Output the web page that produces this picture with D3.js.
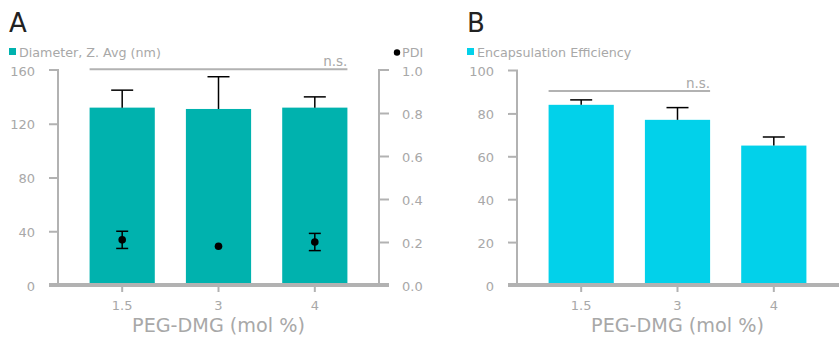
<!DOCTYPE html>
<html>
<head>
<meta charset="utf-8">
<script src="https://cdn.jsdelivr.net/npm/d3@7"></script>
<style>
  html, body { margin: 0; padding: 0; background: #fff; }
  svg { display: block; }
  text { font-family: "DejaVu Sans", sans-serif; }
</style>
</head>
<body>
<svg id="chart" width="839" height="337"></svg>
<script>
// ---- data ----
const categories = ["1.5", "3", "4"];
const diameter = [132, 131, 132];
const diameterErr = [13, 24, 8];
const pdi = [0.21, 0.18, 0.20];
const pdiErr = [0.04, 0, 0.04];
const encapsulation = [84, 77, 65];
const encapsulationErr = [2.3, 5.7, 4];
const diameterTicks = [0, 40, 80, 120, 160];
const pdiTicks = [0, 0.2, 0.4, 0.6, 0.8, 1.0];
const eeTicks = [0, 20, 40, 60, 80, 100];
const xTitle = "PEG-DMG (mol %)";

// ---- style ----
const GREY_TEXT = "#a8a8a8";
const GREY_LINE = "#b2b2b2";
const TEAL = "#00b2ae";
const CYAN = "#02d1ea";

const svg = d3.select("#chart");
const y0 = 285, yTop = 70;

function panel(opts) {
  const g = svg.append("g");
  const x = d3.scaleBand().domain(categories)
    .range([opts.left, opts.right]).paddingInner(0.323).paddingOuter(0.328);
  const y = d3.scaleLinear().domain([0, opts.max]).range([y0, opts.top]);

  // panel letter
  g.append("text").attr("x", opts.letterX).attr("y", 32)
    .attr("font-size", 26).attr("fill", "#222").text(opts.letter);

  // legend
  g.append("rect").attr("x", opts.letterX).attr("y", 48).attr("width", 7).attr("height", 7)
    .attr("fill", opts.color);
  g.append("text").attr("x", opts.letterX + 10).attr("y", 56.5)
    .attr("font-size", 12.7).attr("fill", GREY_TEXT).text(opts.legend);

  // bars
  g.selectAll(".bar").data(opts.values).join("rect")
    .attr("x", (d, i) => x(categories[i]))
    .attr("width", x.bandwidth())
    .attr("y", d => y(d))
    .attr("height", d => y0 - y(d))
    .attr("fill", opts.color);

  // error bars (upper)
  const eb = g.selectAll(".eb").data(opts.values).join("g");
  eb.append("line")
    .attr("x1", (d, i) => x(categories[i]) + x.bandwidth() / 2)
    .attr("x2", (d, i) => x(categories[i]) + x.bandwidth() / 2)
    .attr("y1", d => y(d))
    .attr("y2", (d, i) => y(d + opts.errs[i]))
    .attr("stroke", "#000").attr("stroke-width", 1.5);
  eb.append("line")
    .attr("x1", (d, i) => x(categories[i]) + x.bandwidth() / 2 - 11)
    .attr("x2", (d, i) => x(categories[i]) + x.bandwidth() / 2 + 11)
    .attr("y1", (d, i) => y(d + opts.errs[i]))
    .attr("y2", (d, i) => y(d + opts.errs[i]))
    .attr("stroke", "#000").attr("stroke-width", 1.5);

  // left axis
  const la = g.append("g").attr("transform", `translate(${opts.left},0)`)
    .call(d3.axisLeft(y).tickValues(opts.ticks).tickSize(9).tickPadding(14).tickFormat(d3.format("d")));
  la.select(".domain").attr("stroke", GREY_LINE).attr("stroke-width", 2)
    .attr("d", `M-9,${opts.top}H0V${y0}`);
  la.selectAll(".tick line").attr("stroke", GREY_LINE).attr("stroke-width", 2);
  la.selectAll(".tick text").attr("fill", GREY_TEXT).attr("font-size", 13)
    .attr("font-family", "DejaVu Sans").attr("dy", "0.4em");
  la.selectAll(".tick").filter((d, i) => i === 0 || d === opts.max).select("line").remove();

  // baseline
  g.append("line").attr("x1", opts.left - 9).attr("x2", opts.baseEnd)
    .attr("y1", y0).attr("y2", y0).attr("stroke", GREY_LINE).attr("stroke-width", 4);

  // x axis ticks / labels
  const xa = g.append("g").attr("transform", `translate(0,${y0 + 2})`)
    .call(d3.axisBottom(x).tickSize(5).tickPadding(9));
  xa.select(".domain").remove();
  xa.selectAll(".tick line").attr("stroke", GREY_LINE).attr("stroke-width", 2);
  xa.selectAll(".tick text").attr("fill", GREY_TEXT).attr("font-size", 13)
    .attr("font-family", "DejaVu Sans");

  // x title
  g.append("text").attr("x", (opts.left + opts.right) / 2).attr("y", 332)
    .attr("text-anchor", "middle").attr("font-size", 19.2).attr("fill", GREY_TEXT).text(xTitle);

  // n.s. bracket
  const nsL = x(categories[0]);
  const nsR = x(categories[opts.nsTo]) + x.bandwidth();
  const nsY = y(opts.nsVal);
  g.append("line").attr("x1", nsL).attr("x2", nsR).attr("y1", nsY).attr("y2", nsY)
    .attr("stroke", GREY_LINE).attr("stroke-width", 2);
  g.append("text").attr("x", nsR).attr("y", nsY - 3).attr("text-anchor", "end")
    .attr("font-size", 13.5).attr("fill", GREY_TEXT).text("n.s.");

  return { g, x, y };
}

// Panel A
const A = panel({
  letter: "A", letterX: 9, left: 58, right: 379, top: yTop, max: 160, baseEnd: 389,
  values: diameter, errs: diameterErr, ticks: diameterTicks, color: TEAL,
  legend: "Diameter, Z. Avg (nm)", nsTo: 2, nsVal: 160.5
});

// right PDI axis
const yR = d3.scaleLinear().domain([0, 1]).range([y0, yTop]);
const ra = A.g.append("g").attr("transform", "translate(379,0)")
  .call(d3.axisRight(yR).tickValues(pdiTicks).tickSize(10).tickPadding(13).tickFormat(d3.format(".1f")));
ra.select(".domain").attr("stroke", GREY_LINE).attr("stroke-width", 2)
  .attr("d", `M10,${yTop}H0V${y0}`);
ra.selectAll(".tick line").attr("stroke", GREY_LINE).attr("stroke-width", 2);
ra.selectAll(".tick").filter(d => d === 0 || d === 1).select("line").remove();
ra.selectAll(".tick text").attr("fill", GREY_TEXT).attr("font-size", 13)
  .attr("font-family", "DejaVu Sans").attr("dy", "0.4em");

// PDI legend
A.g.append("circle").attr("cx", 397).attr("cy", 52.5).attr("r", 3.2).attr("fill", "#000");
A.g.append("text").attr("x", 402).attr("y", 56.5).attr("font-size", 12.7)
  .attr("fill", GREY_TEXT).text("PDI");

// PDI points
const cx = c => A.x(c) + A.x.bandwidth() / 2;
const pts = A.g.selectAll(".pdi").data(pdi).join("g");
pts.each(function (d, i) {
  const e = pdiErr[i];
  if (e <= 0) return;
  const gg = d3.select(this);
  const c = cx(categories[i]);
  gg.append("line").attr("x1", c).attr("x2", c).attr("y1", yR(d - e)).attr("y2", yR(d + e))
    .attr("stroke", "#000").attr("stroke-width", 1.5);
  [d - e, d + e].forEach(v => gg.append("line").attr("x1", c - 6).attr("x2", c + 6)
    .attr("y1", yR(v)).attr("y2", yR(v)).attr("stroke", "#000").attr("stroke-width", 1.5));
});
pts.append("circle").attr("cx", (d, i) => cx(categories[i])).attr("cy", d => yR(d))
  .attr("r", 3.8).attr("fill", "#000");

// Panel B
panel({
  letter: "B", letterX: 467, left: 517, right: 838, top: 70.5, max: 100, baseEnd: 839,
  values: encapsulation, errs: encapsulationErr, ticks: eeTicks, color: CYAN,
  legend: "Encapsulation Efficiency", nsTo: 1, nsVal: 90.5
});
</script>
</body>
</html>
